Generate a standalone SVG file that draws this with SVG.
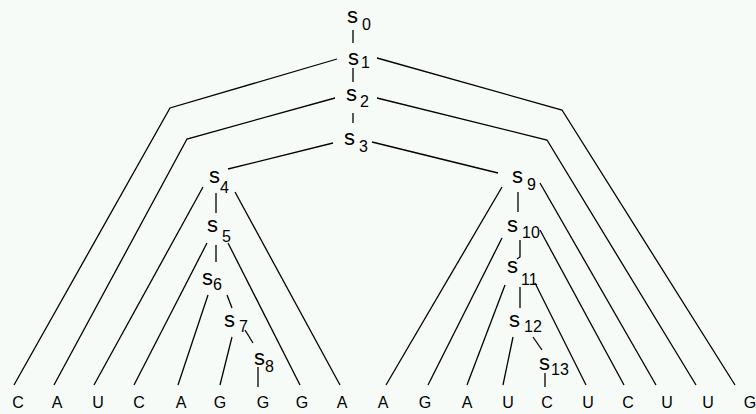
<svg xmlns="http://www.w3.org/2000/svg" width="756" height="414" viewBox="0 0 756 414">
<style>
.s{font-family:"Liberation Sans",Arial,sans-serif;font-size:22px;fill:#000}
.sub{font-size:16px}
.leaf{font-family:"Liberation Sans",Arial,sans-serif;font-size:16px;fill:#000;text-anchor:middle}
.c{fill:none;stroke:#000;stroke-width:1.3;stroke-linejoin:miter}
</style>
<rect width="756" height="414" fill="#f6fbf8"/>
<g id="connectors" class="c">
<line x1="353" y1="30" x2="353" y2="43"/>
<line x1="353" y1="68" x2="353" y2="82"/>
<line x1="353" y1="113" x2="353" y2="123"/>
<polyline points="337,59 170,108 14,385"/>
<polyline points="335,98 187,139 54,385"/>
<polyline points="377,58 562,110 735,385"/>
<polyline points="377,98 547,140 696,385"/>
<line x1="333" y1="143" x2="228" y2="169"/>
<line x1="372" y1="142" x2="498" y2="173"/>
<line x1="203" y1="187" x2="94" y2="385"/>
<line x1="235" y1="192" x2="340" y2="385"/>
<line x1="216" y1="193" x2="216" y2="213"/>
<line x1="207" y1="243" x2="134" y2="385"/>
<line x1="228" y1="243" x2="300" y2="385"/>
<line x1="216" y1="245" x2="216" y2="262"/>
<line x1="208" y1="295" x2="178" y2="385"/>
<line x1="227" y1="295" x2="232" y2="308"/>
<line x1="232" y1="337" x2="220" y2="385"/>
<line x1="245" y1="330" x2="253" y2="343"/>
<line x1="258" y1="367" x2="258" y2="387"/>
<line x1="502" y1="187" x2="386" y2="385"/>
<line x1="540" y1="183" x2="656" y2="385"/>
<line x1="518" y1="192" x2="518" y2="212"/>
<line x1="502" y1="238" x2="428" y2="385"/>
<line x1="540" y1="230" x2="624" y2="385"/>
<polyline points="520,240 520,257 517,259"/>
<line x1="505" y1="285" x2="467" y2="385"/>
<line x1="535" y1="283" x2="586" y2="385"/>
<line x1="520" y1="287" x2="520" y2="308"/>
<line x1="513" y1="337" x2="503" y2="385"/>
<line x1="533" y1="337" x2="542" y2="350"/>
<line x1="545" y1="373" x2="545" y2="387"/>
</g>
<g id="s0"><text class="s" x="347" y="23">s<tspan class="sub" x="362" y="30">0</tspan></text></g>
<g id="s1"><text class="s" x="348" y="65">s<tspan class="sub" x="361" y="68">1</tspan></text></g>
<g id="s2"><text class="s" x="346" y="101">s<tspan class="sub" x="360" y="107">2</tspan></text></g>
<g id="s3"><text class="s" x="344" y="145">s<tspan class="sub" x="359" y="152">3</tspan></text></g>
<g id="s4"><text class="s" x="209" y="183">s<tspan class="sub" x="220" y="193">4</tspan></text></g>
<g id="s5"><text class="s" x="207" y="232">s<tspan class="sub" x="222" y="242">5</tspan></text></g>
<g id="s6"><text class="s" x="202" y="285">s<tspan class="sub" x="213" y="290">6</tspan></text></g>
<g id="s7"><text class="s" x="224" y="327">s<tspan class="sub" x="239" y="332">7</tspan></text></g>
<g id="s8"><text class="s" x="254" y="365">s<tspan class="sub" x="265" y="372">8</tspan></text></g>
<g id="s9"><text class="s" x="512" y="183">s<tspan class="sub" x="527" y="190">9</tspan></text></g>
<g id="s10"><text class="s" x="507" y="232">s<tspan class="sub" x="522" y="238">10</tspan></text></g>
<g id="s11"><text class="s" x="507" y="273">s<tspan class="sub" x="521" y="285">11</tspan></text></g>
<g id="s12"><text class="s" x="509" y="327">s<tspan class="sub" x="524" y="332">12</tspan></text></g>
<g id="s13"><text class="s" x="539" y="370">s<tspan class="sub" x="551" y="375">13</tspan></text></g>
<g id="leaves">
<g id="n0"><text class="leaf" x="18" y="408">C</text></g>
<g id="n1"><text class="leaf" x="57" y="408">A</text></g>
<g id="n2"><text class="leaf" x="98" y="408">U</text></g>
<g id="n3"><text class="leaf" x="139" y="408">C</text></g>
<g id="n4"><text class="leaf" x="181" y="408">A</text></g>
<g id="n5"><text class="leaf" x="220" y="408">G</text></g>
<g id="n6"><text class="leaf" x="263" y="408">G</text></g>
<g id="n7"><text class="leaf" x="302" y="408">G</text></g>
<g id="n8"><text class="leaf" x="342" y="408">A</text></g>
<g id="n9"><text class="leaf" x="383" y="408">A</text></g>
<g id="n10"><text class="leaf" x="425" y="408">G</text></g>
<g id="n11"><text class="leaf" x="467" y="408">A</text></g>
<g id="n12"><text class="leaf" x="508" y="408">U</text></g>
<g id="n13"><text class="leaf" x="547" y="408">C</text></g>
<g id="n14"><text class="leaf" x="588" y="408">U</text></g>
<g id="n15"><text class="leaf" x="628" y="408">C</text></g>
<g id="n16"><text class="leaf" x="667" y="408">U</text></g>
<g id="n17"><text class="leaf" x="708" y="408">U</text></g>
<g id="n18"><text class="leaf" x="750" y="408">G</text></g>
</g>
</svg>
